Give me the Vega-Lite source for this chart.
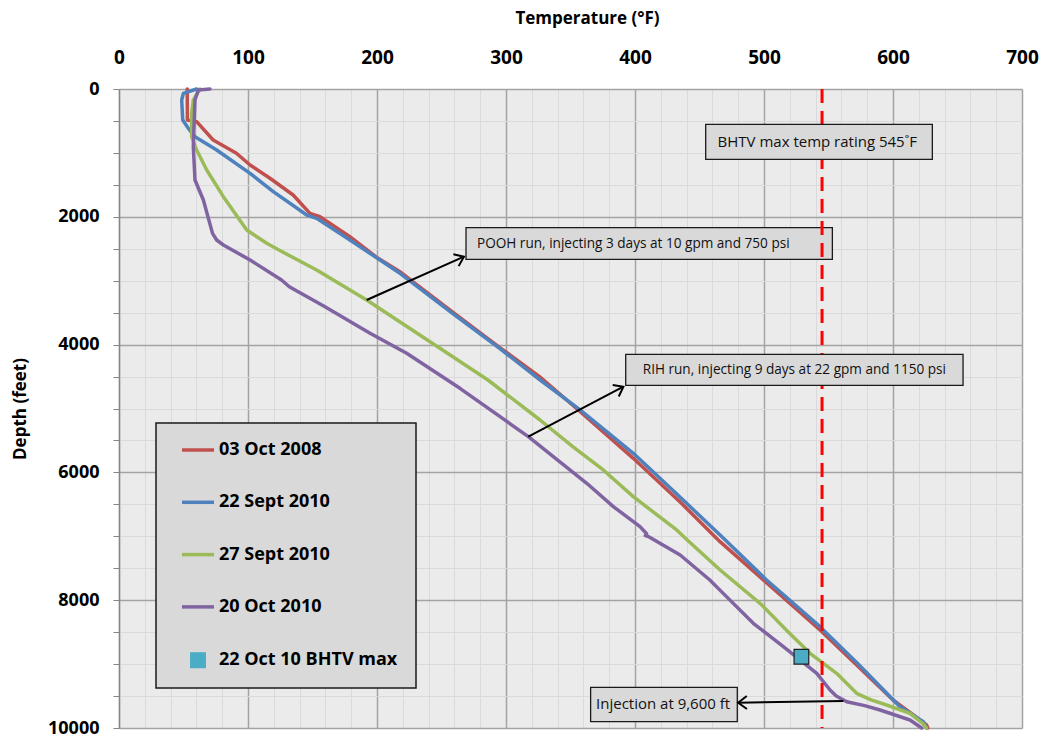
{
  "$schema": "https://vega.github.io/schema/vega-lite/v6.json",
  "width": 903,
  "height": 639,
  "autosize": {"type": "none"},
  "padding": {"left": 119, "top": 89, "right": 20, "bottom": 10},
  "background": "white",
  "config": {
    "view": {"fill": "#EBEBEB", "stroke": null},
    "font": "Open Sans",
    "axisX": {
      "tickCount": 35,
      "format": "d",
      "labelExpr": "datum.value % 100 === 0 ? datum.label : ''",
      "ticks": false,
      "domain": false,
      "labelFontSize": 19,
      "labelFontWeight": "bold",
      "labelColor": "#000000",
      "labelPadding": 22,
      "labelFlush": false,
      "labelOverlap": false,
      "gridColor": {"condition": {"test": "datum.value % 100 === 0", "value": "#A3A3A3"}, "value": "#DADADA"},
      "gridWidth": {"condition": {"test": "datum.value % 100 === 0", "value": 1.5}, "value": 1}
    },
    "axisY": {
      "tickCount": 20,
      "format": "d",
      "labelExpr": "datum.value % 2000 === 0 ? datum.label : ''",
      "ticks": true,
      "tickSize": 6,
      "tickColor": "#868686",
      "domain": true,
      "domainColor": "#868686",
      "domainWidth": 1.3,
      "labelFontSize": 18,
      "labelFontWeight": "bold",
      "labelColor": "#000000",
      "labelPadding": 14,
      "labelFlush": false,
      "labelOverlap": false,
      "gridColor": {"condition": {"test": "datum.value % 2000 === 0", "value": "#A3A3A3"}, "value": "#DADADA"},
      "gridWidth": {"condition": {"test": "datum.value % 2000 === 0", "value": 1.5}, "value": 1}
    }
  },
  "datasets": {
    "profiles": [
      {"series": "03 Oct 2008", "depth": 0, "temp": 52.9},
      {"series": "03 Oct 2008", "depth": 485, "temp": 53.0},
      {"series": "03 Oct 2008", "depth": 511, "temp": 60.2},
      {"series": "03 Oct 2008", "depth": 798, "temp": 73},
      {"series": "03 Oct 2008", "depth": 1006, "temp": 91},
      {"series": "03 Oct 2008", "depth": 1189, "temp": 101.6},
      {"series": "03 Oct 2008", "depth": 1397, "temp": 117},
      {"series": "03 Oct 2008", "depth": 1659, "temp": 135},
      {"series": "03 Oct 2008", "depth": 1946, "temp": 148},
      {"series": "03 Oct 2008", "depth": 1998, "temp": 155.8},
      {"series": "03 Oct 2008", "depth": 2311, "temp": 179},
      {"series": "03 Oct 2008", "depth": 2624, "temp": 199},
      {"series": "03 Oct 2008", "depth": 2859, "temp": 217.8},
      {"series": "03 Oct 2008", "depth": 3041, "temp": 229.5},
      {"series": "03 Oct 2008", "depth": 3510, "temp": 260},
      {"series": "03 Oct 2008", "depth": 4058, "temp": 296},
      {"series": "03 Oct 2008", "depth": 4500, "temp": 326},
      {"series": "03 Oct 2008", "depth": 5023, "temp": 356},
      {"series": "03 Oct 2008", "depth": 5780, "temp": 398.7},
      {"series": "03 Oct 2008", "depth": 6484, "temp": 436},
      {"series": "03 Oct 2008", "depth": 7084, "temp": 465.9},
      {"series": "03 Oct 2008", "depth": 7684, "temp": 499.5},
      {"series": "03 Oct 2008", "depth": 8466, "temp": 543.4},
      {"series": "03 Oct 2008", "depth": 9000, "temp": 571},
      {"series": "03 Oct 2008", "depth": 9562, "temp": 600},
      {"series": "03 Oct 2008", "depth": 9800, "temp": 616},
      {"series": "03 Oct 2008", "depth": 9953, "temp": 626},
      {"series": "03 Oct 2008", "depth": 10000, "temp": 627},

      {"series": "22 Sept 2010", "depth": 0, "temp": 60.2},
      {"series": "22 Sept 2010", "depth": 68, "temp": 49.9},
      {"series": "22 Sept 2010", "depth": 172, "temp": 48.6},
      {"series": "22 Sept 2010", "depth": 485, "temp": 49.4},
      {"series": "22 Sept 2010", "depth": 615, "temp": 53.7},
      {"series": "22 Sept 2010", "depth": 746, "temp": 58.9},
      {"series": "22 Sept 2010", "depth": 955, "temp": 75.7},
      {"series": "22 Sept 2010", "depth": 1320, "temp": 101.6},
      {"series": "22 Sept 2010", "depth": 1607, "temp": 119.6},
      {"series": "22 Sept 2010", "depth": 1972, "temp": 145.5},
      {"series": "22 Sept 2010", "depth": 2024, "temp": 153.2},
      {"series": "22 Sept 2010", "depth": 2363, "temp": 179},
      {"series": "22 Sept 2010", "depth": 2884, "temp": 217.8},
      {"series": "22 Sept 2010", "depth": 3041, "temp": 228},
      {"series": "22 Sept 2010", "depth": 3510, "temp": 258.5},
      {"series": "22 Sept 2010", "depth": 4058, "temp": 295},
      {"series": "22 Sept 2010", "depth": 4554, "temp": 326.5},
      {"series": "22 Sept 2010", "depth": 5023, "temp": 357.4},
      {"series": "22 Sept 2010", "depth": 5701, "temp": 398.7},
      {"series": "22 Sept 2010", "depth": 6484, "temp": 440},
      {"series": "22 Sept 2010", "depth": 7058, "temp": 470},
      {"series": "22 Sept 2010", "depth": 7684, "temp": 502},
      {"series": "22 Sept 2010", "depth": 8414, "temp": 543.4},
      {"series": "22 Sept 2010", "depth": 9000, "temp": 573},
      {"series": "22 Sept 2010", "depth": 9667, "temp": 605.4},
      {"series": "22 Sept 2010", "depth": 9901, "temp": 623.5},
      {"series": "22 Sept 2010", "depth": 10000, "temp": 626},

      {"series": "27 Sept 2010", "depth": 0, "temp": 62.8},
      {"series": "27 Sept 2010", "depth": 172, "temp": 57.6},
      {"series": "27 Sept 2010", "depth": 380, "temp": 56.3},
      {"series": "27 Sept 2010", "depth": 746, "temp": 56.3},
      {"series": "27 Sept 2010", "depth": 955, "temp": 60.2},
      {"series": "27 Sept 2010", "depth": 1268, "temp": 68},
      {"series": "27 Sept 2010", "depth": 1685, "temp": 80.9},
      {"series": "27 Sept 2010", "depth": 2207, "temp": 99},
      {"series": "27 Sept 2010", "depth": 2415, "temp": 114.5},
      {"series": "27 Sept 2010", "depth": 2520, "temp": 124},
      {"series": "27 Sept 2010", "depth": 2833, "temp": 153.2},
      {"series": "27 Sept 2010", "depth": 3302, "temp": 192},
      {"series": "27 Sept 2010", "depth": 3700, "temp": 222},
      {"series": "27 Sept 2010", "depth": 4033, "temp": 247},
      {"series": "27 Sept 2010", "depth": 4554, "temp": 286},
      {"series": "27 Sept 2010", "depth": 5180, "temp": 326.4},
      {"series": "27 Sept 2010", "depth": 5600, "temp": 352},
      {"series": "27 Sept 2010", "depth": 5962, "temp": 375.4},
      {"series": "27 Sept 2010", "depth": 6380, "temp": 398.7},
      {"series": "27 Sept 2010", "depth": 6901, "temp": 432.3},
      {"series": "27 Sept 2010", "depth": 7058, "temp": 440.5},
      {"series": "27 Sept 2010", "depth": 7527, "temp": 466},
      {"series": "27 Sept 2010", "depth": 8049, "temp": 496.9},
      {"series": "27 Sept 2010", "depth": 8500, "temp": 519},
      {"series": "27 Sept 2010", "depth": 8831, "temp": 535.7},
      {"series": "27 Sept 2010", "depth": 9144, "temp": 556.3},
      {"series": "27 Sept 2010", "depth": 9457, "temp": 571.8},
      {"series": "27 Sept 2010", "depth": 9560, "temp": 583},
      {"series": "27 Sept 2010", "depth": 9640, "temp": 595},
      {"series": "27 Sept 2010", "depth": 9770, "temp": 613.2},
      {"series": "27 Sept 2010", "depth": 9927, "temp": 623},
      {"series": "27 Sept 2010", "depth": 10000, "temp": 626},

      {"series": "20 Oct 2010", "depth": 0, "temp": 70.5},
      {"series": "20 Oct 2010", "depth": 16, "temp": 61.5},
      {"series": "20 Oct 2010", "depth": 172, "temp": 58.9},
      {"series": "20 Oct 2010", "depth": 903, "temp": 57.6},
      {"series": "20 Oct 2010", "depth": 1424, "temp": 58.9},
      {"series": "20 Oct 2010", "depth": 1737, "temp": 65.4},
      {"series": "20 Oct 2010", "depth": 2259, "temp": 72.5},
      {"series": "20 Oct 2010", "depth": 2363, "temp": 75.7},
      {"series": "20 Oct 2010", "depth": 2441, "temp": 80.9},
      {"series": "20 Oct 2010", "depth": 2676, "temp": 101.6},
      {"series": "20 Oct 2010", "depth": 2989, "temp": 126},
      {"series": "20 Oct 2010", "depth": 3094, "temp": 132},
      {"series": "20 Oct 2010", "depth": 3400, "temp": 159},
      {"series": "20 Oct 2010", "depth": 3823, "temp": 194.6},
      {"series": "20 Oct 2010", "depth": 4136, "temp": 223},
      {"series": "20 Oct 2010", "depth": 4684, "temp": 264.3},
      {"series": "20 Oct 2010", "depth": 5441, "temp": 317.3},
      {"series": "20 Oct 2010", "depth": 6170, "temp": 362.6},
      {"series": "20 Oct 2010", "depth": 6536, "temp": 383.2},
      {"series": "20 Oct 2010", "depth": 6849, "temp": 403.9},
      {"series": "20 Oct 2010", "depth": 6960, "temp": 409},
      {"series": "20 Oct 2010", "depth": 6990, "temp": 408},
      {"series": "20 Oct 2010", "depth": 7010, "temp": 411},
      {"series": "20 Oct 2010", "depth": 7293, "temp": 435},
      {"series": "20 Oct 2010", "depth": 7684, "temp": 458},
      {"series": "20 Oct 2010", "depth": 7866, "temp": 467},
      {"series": "20 Oct 2010", "depth": 8362, "temp": 491.7},
      {"series": "20 Oct 2010", "depth": 8727, "temp": 515},
      {"series": "20 Oct 2010", "depth": 9144, "temp": 540.9},
      {"series": "20 Oct 2010", "depth": 9405, "temp": 551.2},
      {"series": "20 Oct 2010", "depth": 9500, "temp": 556},
      {"series": "20 Oct 2010", "depth": 9588, "temp": 564.1},
      {"series": "20 Oct 2010", "depth": 9650, "temp": 578},
      {"series": "20 Oct 2010", "depth": 9718, "temp": 590},
      {"series": "20 Oct 2010", "depth": 9875, "temp": 613.2},
      {"series": "20 Oct 2010", "depth": 10000, "temp": 622.2}
    ],
    "bhtv": [
      {"series": "22 Oct 10 BHTV max", "depth": 8884, "temp": 529}
    ],
    "limit": [
      {"temp": 545}
    ],
    "notes": [
      {"note": "BHTV max temp rating 545˚F", "t1": 454.8, "t2": 630.5, "d1": 553, "d2": 1101, "tx": 464, "ty": 827, "layer": "top", "kind": "large"},
      {"note": "POOH run, injecting 3 days at 10 gpm and 750 psi", "t1": 269, "t2": 553, "d1": 2170, "d2": 2665, "tx": 277.5, "ty": 2418, "layer": "under", "kind": "small"},
      {"note": "RIH run, injecting 9 days at 22 gpm and 1150 psi", "t1": 392.8, "t2": 654.3, "d1": 4152, "d2": 4637, "tx": 406, "ty": 4395, "layer": "top", "kind": "small"},
      {"note": "Injection at 9,600 ft", "t1": 365.6, "t2": 479.3, "d1": 9363, "d2": 9901, "tx": 369.8, "ty": 9632, "layer": "top", "kind": "large"}
    ],
    "arrows": [
      {"t1": 192, "d1": 3302, "t2": 267.4, "d2": 2624},
      {"t1": 317.3, "d1": 5441, "t2": 391, "d2": 4659},
      {"t1": 561.5, "d1": 9577, "t2": 480, "d2": 9604}
    ]
  },
  "layer": [
    {
      "data": {"name": "profiles"},
      "mark": {"type": "line", "strokeWidth": 3.5, "strokeJoin": "round", "strokeCap": "round"},
      "encoding": {
        "x": {
          "field": "temp", "type": "quantitative",
          "scale": {"domain": [0, 700], "nice": false, "zero": false},
          "axis": {
            "orient": "top",
            "title": "Temperature (°F)",
            "tickCount": 35,
            "titleFont": "Open Sans",
            "titleFontSize": 17,
            "titleFontWeight": "bold",
            "titleColor": "#000000",
            "titleX": 468,
            "titleY": -71,
            "titleAlign": "center",
            "titleBaseline": "middle",
            "titleAngle": 0
          }
        },
        "y": {
          "field": "depth", "type": "quantitative",
          "scale": {"domain": [0, 10000], "nice": false, "zero": false, "reverse": true},
          "axis": {
            "orient": "left",
            "title": "Depth (feet)",
            "tickCount": 20,
            "titleFont": "Open Sans",
            "titleFontSize": 17,
            "titleFontWeight": "bold",
            "titleColor": "#000000",
            "titleX": -90,
            "titleY": 319.5,
            "titleAngle": -90,
            "titleAlign": "center",
            "titleBaseline": "bottom"
          }
        },
        "order": {"field": "depth", "type": "quantitative"},
        "color": {
          "field": "series", "type": "nominal",
          "scale": {
            "domain": ["03 Oct 2008", "22 Sept 2010", "27 Sept 2010", "20 Oct 2010", "22 Oct 10 BHTV max"],
            "range": ["#C0504D", "#4F81BD", "#9BBB59", "#8064A2", "#4BACC6"]
          },
          "legend": {
            "orient": "none",
            "legendX": 37,
            "legendY": 334,
            "title": null,
            "fillColor": "#D9D9D9",
            "strokeColor": "#1A1A1A",
            "padding": 18,
            "symbolType": "stroke",
            "symbolSize": 1024,
            "symbolStrokeWidth": 3.5,
            "symbolOffset": 15,
            "labelFont": "Open Sans",
            "labelFontSize": 18,
            "labelFontWeight": "bold",
            "labelColor": "#000000",
            "labelLimit": 300,
            "labelOffset": 12,
            "rowPadding": 34.3,
            "encode": {
              "legend": {
                "update": {
                  "strokeWidth": {"value": 1.5}
                }
              },
              "symbols": {
                "update": {
                  "shape": {"signal": "datum.value === '22 Oct 10 BHTV max' ? 'square' : 'stroke'"},
                  "size": {"signal": "datum.value === '22 Oct 10 BHTV max' ? 216 : 1024"},
                  "fill": {"signal": "datum.value === '22 Oct 10 BHTV max' ? '#4BACC6' : 'transparent'"},
                  "stroke": {"signal": "datum.value === '22 Oct 10 BHTV max' ? '#1F1F1F' : scale('color', datum.value)"},
                  "strokeWidth": {"signal": "datum.value === '22 Oct 10 BHTV max' ? 1.2 : 3.5"},
                  "opacity": {"value": 1}
                }
              }
            }
          }
        }
      }
    },
    {
      "data": {"name": "notes"},
      "transform": [{"filter": "datum.layer === 'under'"}],
      "mark": {"type": "rect", "fill": "#D9D9D9", "stroke": "#1A1A1A", "strokeWidth": 1.3},
      "encoding": {
        "x": {"field": "t1", "type": "quantitative", "scale": {"domain": [0, 700], "nice": false, "zero": false}},
        "x2": {"field": "t2"},
        "y": {"field": "d1", "type": "quantitative", "scale": {"domain": [0, 10000], "nice": false, "zero": false, "reverse": true}},
        "y2": {"field": "d2"}
      }
    },
    {
      "data": {"name": "limit"},
      "mark": {"type": "rule", "color": "#FF0000", "strokeWidth": 3, "strokeDash": [14, 8]},
      "encoding": {
        "x": {"field": "temp", "type": "quantitative", "scale": {"domain": [0, 700], "nice": false, "zero": false}}
      }
    },
    {
      "data": {"name": "notes"},
      "transform": [{"filter": "datum.layer === 'top'"}],
      "mark": {"type": "rect", "fill": "#D9D9D9", "stroke": "#1A1A1A", "strokeWidth": 1.3},
      "encoding": {
        "x": {"field": "t1", "type": "quantitative", "scale": {"domain": [0, 700], "nice": false, "zero": false}},
        "x2": {"field": "t2"},
        "y": {"field": "d1", "type": "quantitative", "scale": {"domain": [0, 10000], "nice": false, "zero": false, "reverse": true}},
        "y2": {"field": "d2"}
      }
    },
    {
      "data": {"name": "notes"},
      "transform": [{"filter": "datum.kind === 'small'"}],
      "mark": {"type": "text", "align": "left", "baseline": "middle", "font": "Open Sans", "fontSize": 13.6, "color": "#111111"},
      "encoding": {
        "x": {"field": "tx", "type": "quantitative", "scale": {"domain": [0, 700], "nice": false, "zero": false}},
        "y": {"field": "ty", "type": "quantitative", "scale": {"domain": [0, 10000], "nice": false, "zero": false, "reverse": true}},
        "text": {"field": "note"}
      }
    },
    {
      "data": {"name": "notes"},
      "transform": [{"filter": "datum.kind === 'large'"}],
      "mark": {"type": "text", "align": "left", "baseline": "middle", "font": "Open Sans", "fontSize": 15, "color": "#111111"},
      "encoding": {
        "x": {"field": "tx", "type": "quantitative", "scale": {"domain": [0, 700], "nice": false, "zero": false}},
        "y": {"field": "ty", "type": "quantitative", "scale": {"domain": [0, 10000], "nice": false, "zero": false, "reverse": true}},
        "text": {"field": "note"}
      }
    },
    {
      "data": {"name": "arrows"},
      "mark": {"type": "rule", "color": "#000000", "strokeWidth": 2},
      "encoding": {
        "x": {"field": "t1", "type": "quantitative", "scale": {"domain": [0, 700], "nice": false, "zero": false}},
        "x2": {"field": "t2"},
        "y": {"field": "d1", "type": "quantitative", "scale": {"domain": [0, 10000], "nice": false, "zero": false, "reverse": true}},
        "y2": {"field": "d2"}
      }
    },
    {
      "data": {"name": "arrows"},
      "transform": [{"calculate": "atan2((datum.d2 - datum.d1) * 0.0639, (datum.t2 - datum.t1) * 1.29) * 180 / PI", "as": "ang"}],
      "mark": {"type": "point", "shape": "M-1,-0.75L0,0L-1,0.75", "filled": false, "stroke": "#000000", "strokeWidth": 2, "size": 300, "opacity": 1},
      "encoding": {
        "x": {"field": "t2", "type": "quantitative", "scale": {"domain": [0, 700], "nice": false, "zero": false}},
        "y": {"field": "d2", "type": "quantitative", "scale": {"domain": [0, 10000], "nice": false, "zero": false, "reverse": true}},
        "angle": {"field": "ang", "type": "quantitative", "scale": null}
      }
    },
    {
      "data": {"name": "bhtv"},
      "mark": {"type": "point", "shape": "square", "filled": true, "size": 216, "stroke": "#1F1F1F", "strokeWidth": 1.2, "opacity": 1},
      "encoding": {
        "x": {"field": "temp", "type": "quantitative", "scale": {"domain": [0, 700], "nice": false, "zero": false}},
        "y": {"field": "depth", "type": "quantitative", "scale": {"domain": [0, 10000], "nice": false, "zero": false, "reverse": true}},
        "color": {
          "field": "series", "type": "nominal",
          "scale": {
            "domain": ["03 Oct 2008", "22 Sept 2010", "27 Sept 2010", "20 Oct 2010", "22 Oct 10 BHTV max"],
            "range": ["#C0504D", "#4F81BD", "#9BBB59", "#8064A2", "#4BACC6"]
          },
          "legend": null
        }
      }
    }
  ]
}
